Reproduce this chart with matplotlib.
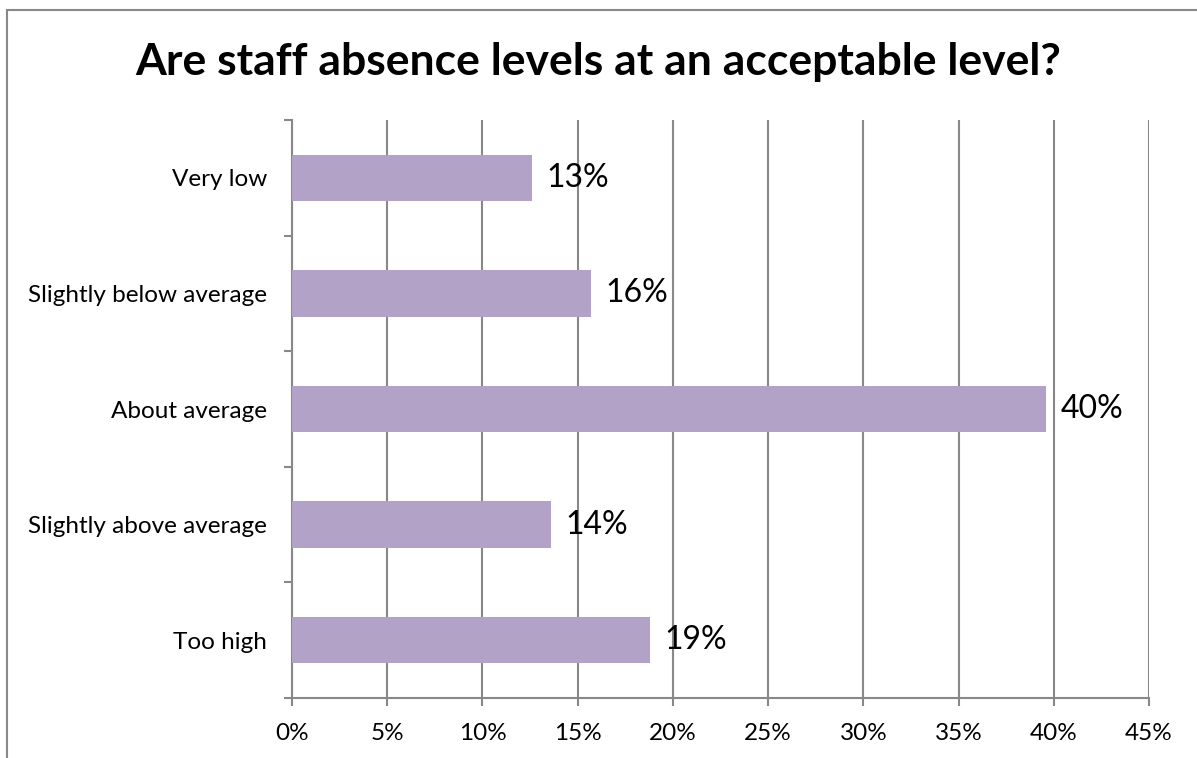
import matplotlib
matplotlib.use("Agg")
import matplotlib.pyplot as plt
from matplotlib.patches import Rectangle
from matplotlib.ticker import MultipleLocator, PercentFormatter

categories = ["Very low", "Slightly below average", "About average",
              "Slightly above average", "Too high"]
shares = [0.126, 0.157, 0.396, 0.136, 0.188]

plt.rcParams['font.family'] = ['Lato', 'DejaVu Sans']

fig = plt.figure(figsize=(11.97, 7.58), dpi=100)
ax = fig.add_axes([292 / 1197, 60 / 758, 857 / 1197, 578 / 758])

pos = list(range(len(categories)))
ax.barh(pos, shares, height=0.4, color='#B3A2C7', zorder=3)
for p, v in zip(pos, shares):
    ax.text(v + 0.0075, p, f"{v:.0%}", va='center', ha='left', fontsize=23, zorder=4)

ax.set_xlim(0, 0.45)
ax.set_ylim(len(categories) - 0.5, -0.5)
ax.xaxis.set_major_locator(MultipleLocator(0.05))
ax.xaxis.set_major_formatter(PercentFormatter(1.0, decimals=0))
ax.set_yticks(pos)
ax.set_yticklabels(categories)
ax.set_yticks([i - 0.5 for i in range(len(categories) + 1)], minor=True)

ax.grid(axis='x', color='#888888', linewidth=1.5, zorder=0)
for s in ['top', 'right']:
    ax.spines[s].set_visible(False)
for s in ['left', 'bottom']:
    ax.spines[s].set_color('#888888')
    ax.spines[s].set_linewidth(1.5)
ax.tick_params(axis='x', length=6, width=1.5, color='#888888', labelsize=17.5, pad=12)
ax.tick_params(axis='y', which='major', length=0, labelsize=17.5, pad=18)
ax.tick_params(axis='y', which='minor', length=6, width=1.5, color='#888888')

fig.text(0.5, 1 - 62 / 758, "Are staff absence levels at an acceptable level?",
         ha='center', va='center', fontsize=32, fontweight='bold')

# chart frame
fig.patches.append(Rectangle((7 / 1197, -0.1), 1.2, 1 - 10 / 758 + 0.1,
                             transform=fig.transFigure, fill=False,
                             edgecolor='#888888', linewidth=1.5))

fig.savefig("out.png", dpi=100)
